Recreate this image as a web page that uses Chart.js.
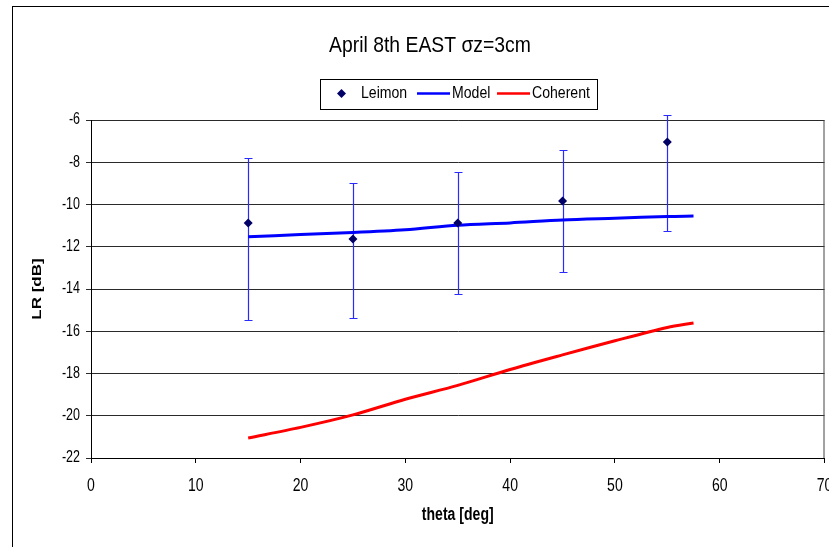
<!DOCTYPE html>
<html>
<head>
<meta charset="utf-8">
<script src="https://cdn.jsdelivr.net/npm/chart.js@4.4.1/dist/chart.umd.min.js"></script>
<style>
  html, body { margin: 0; padding: 0; background: #fff; }
  canvas { display: block; }
</style>
</head>
<body>
<canvas id="lr" width="829" height="547"></canvas>
<script>
const FONT = "'Liberation Sans', Arial, sans-serif";

// measured points with their error bar ends
const thetaPts = [15, 25, 35, 45, 55];
const leimon = [-10.87, -11.63, -10.87, -9.83, -7.04];
const errHigh = [-7.81, -8.96, -8.44, -7.42, -5.78];
const errLow = [-15.46, -15.39, -14.23, -13.19, -11.25];

// model curves
const thetaCurve = [15, 20, 25, 30, 35, 40, 45, 50, 55, 57.5];
const model = [-11.53, -11.42, -11.33, -11.2, -10.98, -10.87, -10.73, -10.65, -10.57, -10.55];
const coherent = [-21.05, -20.55, -19.96, -19.22, -18.56, -17.81, -17.12, -16.45, -15.82, -15.61];

const xTicks = [0, 10, 20, 30, 40, 50, 60, 70];
const yTicks = [-22, -20, -18, -16, -14, -12, -10, -8, -6];

function pairs(xs, ys) {
  return xs.map(function(x, i) { return { x: x, y: ys[i] }; });
}

// narrow lettering: every string is squeezed sideways on screen around its anchor
let squeeze = 0.78;
const canvas = document.getElementById('lr');
const ctx2d = canvas.getContext('2d');
const plainFillText = ctx2d.fillText;
ctx2d.fillText = function(text, x, y, maxWidth) {
  const m = this.getTransform();
  const p = m.transformPoint(new DOMPoint(x, y));
  const t = new DOMMatrix().translate(p.x, p.y).scale(squeeze, 1).translate(-p.x, -p.y).multiply(m);
  this.setTransform(t);
  if (maxWidth === undefined) plainFillText.call(this, text, x, y);
  else plainFillText.call(this, text, x, y, maxWidth / squeeze);
  this.setTransform(m);
};

// white page, outer frame, plot right edge, error bars, title and legend box
const decor = {
  id: 'decor',
  beforeDraw(chart) {
    const ctx = chart.ctx;
    ctx.save();
    ctx.fillStyle = '#fff';
    ctx.fillRect(0, 0, chart.width, chart.height);
    ctx.strokeStyle = '#000';
    ctx.lineWidth = 1;
    ctx.strokeRect(12.5, 6.5, 1000, 1000);
    ctx.restore();
  },
  beforeDatasetsDraw(chart) {
    const ctx = chart.ctx;
    const xs = chart.scales.x, ys = chart.scales.y;
    const area = chart.chartArea;
    ctx.save();
    ctx.strokeStyle = '#444';
    ctx.lineWidth = 1;
    ctx.beginPath();
    ctx.moveTo(area.right - 0.5, area.top);
    ctx.lineTo(area.right - 0.5, area.bottom);
    ctx.stroke();

    ctx.strokeStyle = '#2a2aff';
    ctx.lineWidth = 1.2;
    thetaPts.forEach(function(t, i) {
      const px = Math.round(xs.getPixelForValue(t)) + 0.5;
      const top = Math.round(ys.getPixelForValue(errHigh[i])) + 0.5;
      const bot = Math.round(ys.getPixelForValue(errLow[i])) + 0.5;
      ctx.beginPath();
      ctx.moveTo(px, top);
      ctx.lineTo(px, bot);
      ctx.moveTo(px - 4, top);
      ctx.lineTo(px + 4, top);
      ctx.moveTo(px - 4, bot);
      ctx.lineTo(px + 4, bot);
      ctx.stroke();
    });
    ctx.restore();
  },
  afterDraw(chart) {
    const ctx = chart.ctx;
    ctx.save();
    squeeze = 0.88;
    ctx.fillStyle = '#000';
    ctx.font = '22px ' + FONT;
    ctx.textAlign = 'center';
    ctx.textBaseline = 'alphabetic';
    ctx.fillText('April 8th EAST \u03c3z=3cm', 430, 52);

    // legend
    ctx.strokeStyle = '#000';
    ctx.lineWidth = 1;
    ctx.strokeRect(320.5, 79.5, 277, 30);
    const cy = 93.5;
    ctx.fillStyle = '#000066';
    ctx.beginPath();
    ctx.moveTo(341.5, cy - 4.5);
    ctx.lineTo(346, cy);
    ctx.lineTo(341.5, cy + 4.5);
    ctx.lineTo(337, cy);
    ctx.closePath();
    ctx.fill();
    ctx.lineWidth = 2.5;
    ctx.strokeStyle = '#0000ff';
    ctx.beginPath();
    ctx.moveTo(417, cy);
    ctx.lineTo(450, cy);
    ctx.stroke();
    ctx.strokeStyle = '#ff0000';
    ctx.beginPath();
    ctx.moveTo(497, cy);
    ctx.lineTo(530, cy);
    ctx.stroke();
    ctx.fillStyle = '#000';
    ctx.font = '16px ' + FONT;
    ctx.textAlign = 'left';
    ctx.textBaseline = 'middle';
    ctx.fillText('Leimon', 361, cy);
    ctx.fillText('Model', 452, cy);
    ctx.fillText('Coherent', 532, cy);
    squeeze = 0.78;
    ctx.restore();
  }
};

Chart.defaults.font.family = FONT;
Chart.defaults.color = '#000';

new Chart(canvas, {
  type: 'scatter',
  plugins: [decor],
  data: {
    datasets: [
      {
        label: 'Leimon',
        data: pairs(thetaPts, leimon),
        pointStyle: 'rectRot',
        pointRadius: 4.5,
        backgroundColor: '#000066',
        borderColor: '#000066',
        borderWidth: 0,
        clip: false,
      },
      {
        label: 'Model',
        data: pairs(thetaCurve, model),
        showLine: true,
        borderColor: '#0000ff',
        borderWidth: 3,
        pointRadius: 0,
        tension: 0.3,
      },
      {
        label: 'Coherent',
        data: pairs(thetaCurve, coherent),
        showLine: true,
        borderColor: '#ff0000',
        borderWidth: 3,
        pointRadius: 0,
        tension: 0.3,
      },
    ],
  },
  options: {
    responsive: false,
    devicePixelRatio: 1,
    animation: false,
    layout: { padding: { left: 0, top: 120, right: 1, bottom: 0 } },
    plugins: {
      legend: { display: false },
      tooltip: { enabled: false },
    },
    scales: {
      x: {
        type: 'linear',
        min: 0,
        max: 70,
        afterBuildTicks: (s) => { s.ticks = xTicks.map((v) => ({ value: v })); },
        afterFit: (s) => { s.height = 89; s.paddingLeft = 0; s.paddingRight = 0; },
        ticks: { font: { size: 18 }, padding: 12, maxRotation: 0 },
        grid: { drawOnChartArea: false, color: '#000', tickLength: 5 },
        border: { color: '#000' },
        title: {
          display: true,
          text: 'theta [deg]',
          font: { size: 18, weight: 'bold' },
          padding: { top: 0, bottom: 21 },
        },
      },
      y: {
        min: -22,
        max: -6,
        afterBuildTicks: (s) => { s.ticks = yTicks.map((v) => ({ value: v })); },
        afterFit: (s) => { s.width = 91; },
        ticks: { font: { size: 16 }, padding: 6 },
        grid: { color: '#2a2a2a', tickLength: 5 },
        border: { color: '#000' },
        title: {
          display: true,
          text: 'LR [dB]',
          font: { size: 17, weight: 'bold' },
          padding: { top: 27, bottom: 0 },
        },
      },
    },
  },
});
</script>
</body>
</html>
